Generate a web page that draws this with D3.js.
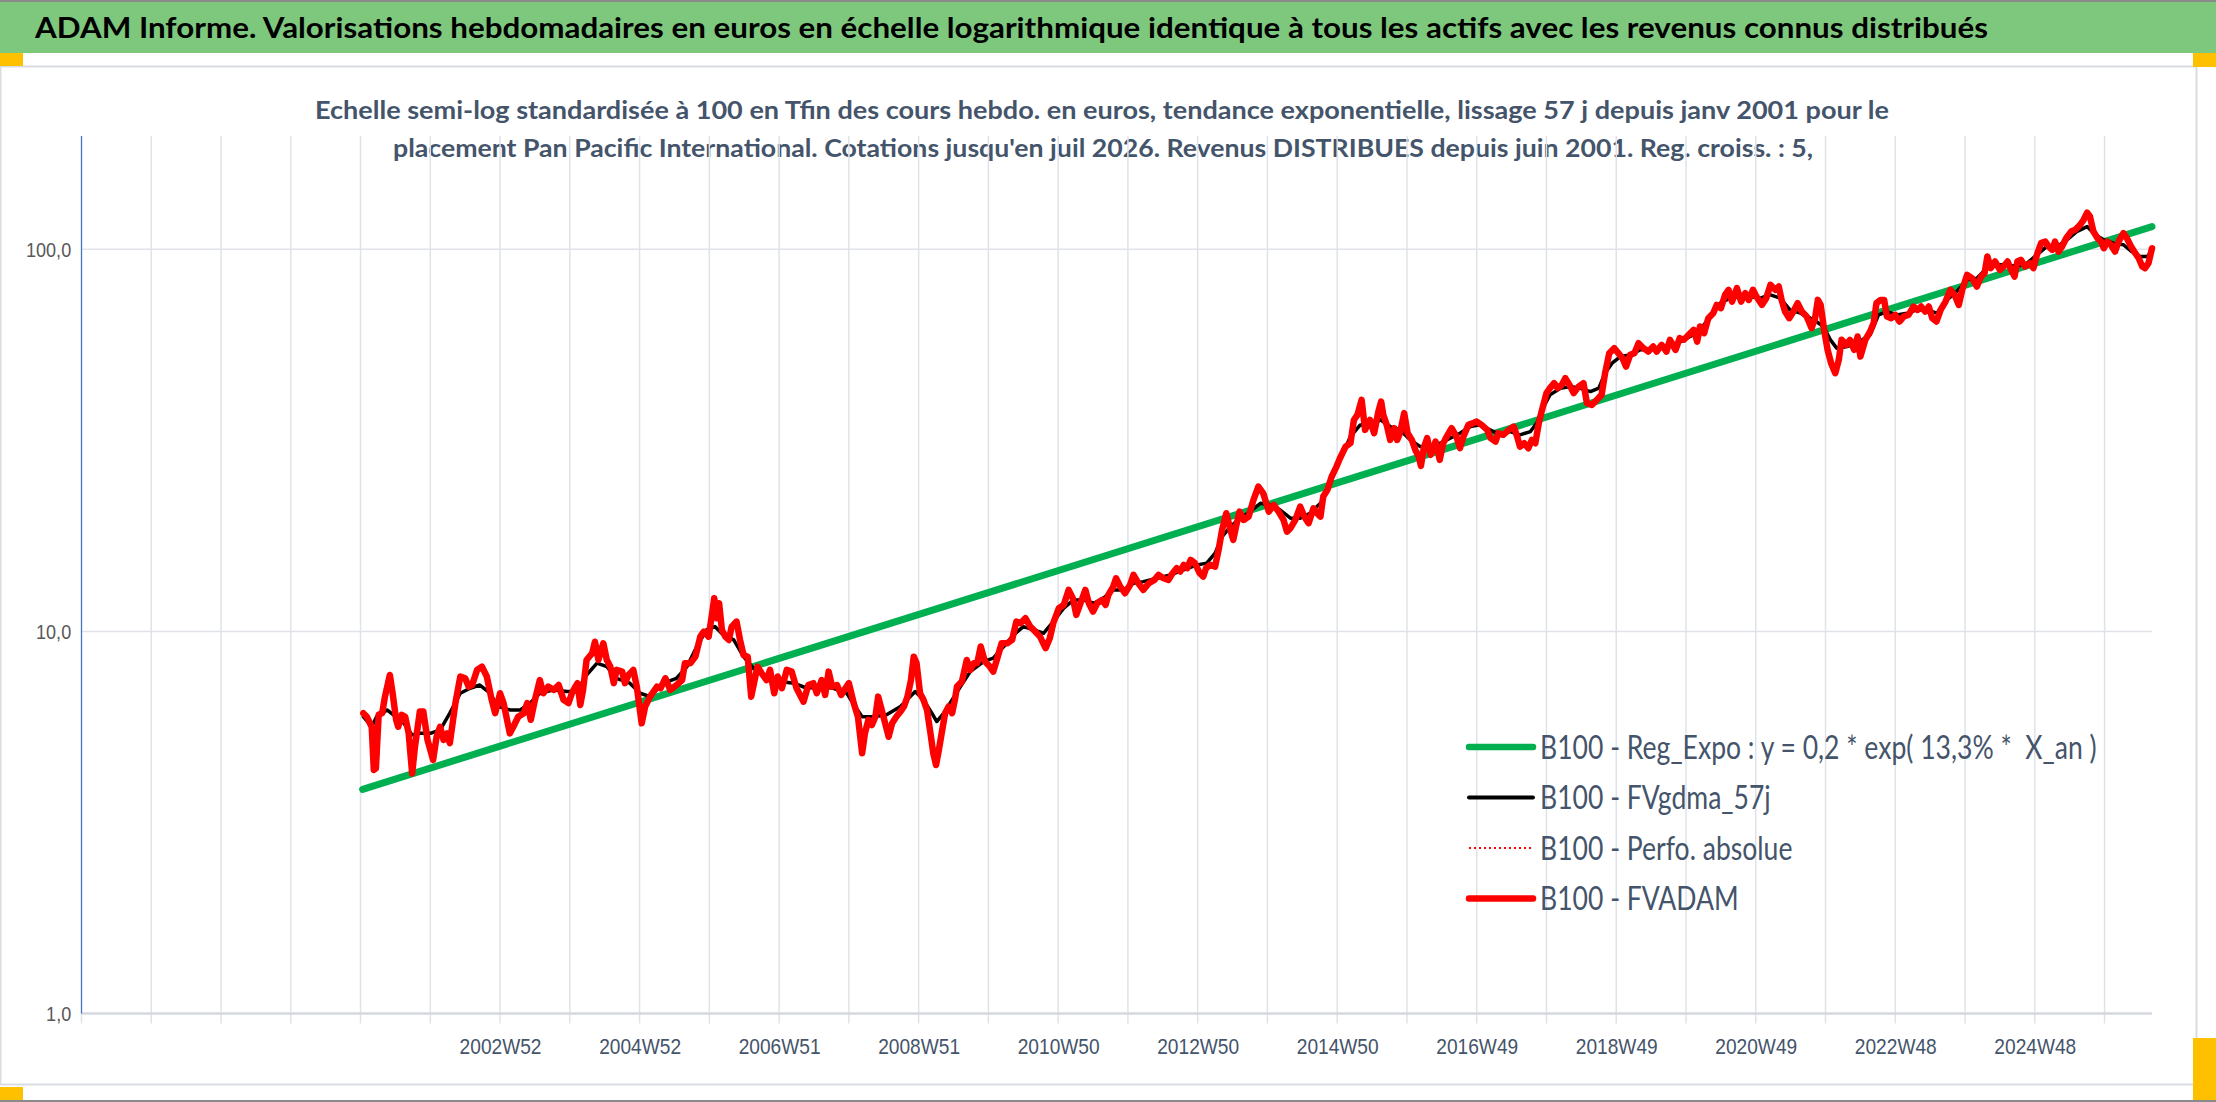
<!DOCTYPE html>
<html>
<head>
<meta charset="utf-8">
<script src="https://cdn.jsdelivr.net/npm/d3@7/dist/d3.min.js"></script>
<style>
  body { margin: 0; background: #fff; }
  svg { display: block; font-family: Lato, "Open Sans", sans-serif; }
</style>
</head>
<body>
<div id="chart"></div>
<script>
// ---- data (x = decimal year, y = base 100 value) ----
var mainTitle = "ADAM Informe. Valorisations hebdomadaires en euros en échelle logarithmique identique à tous les actifs avec les revenus connus distribués";
var subTitle = [
  "Echelle semi-log standardisée à 100 en Tfin des cours hebdo. en euros, tendance exponentielle, lissage 57 j depuis janv 2001 pour le",
  "placement Pan Pacific International. Cotations jusqu'en juil 2026. Revenus DISTRIBUES depuis juin 2001. Reg. croiss. : 5,"
];
var seriesNames = [
  "B100 - Reg_Expo : y = 0,2 * exp( 13,3% *  X_an )",
  "B100 - FVgdma_57j",
  "B100 - Perfo. absolue",
  "B100 - FVADAM"
];

var tickYears = [2003, 2005, 2007, 2009, 2011, 2013, 2015, 2017, 2019, 2021, 2023, 2025];
var tickLabels = ["2002W52", "2004W52", "2006W51", "2008W51", "2010W50", "2012W50",
                  "2014W50", "2016W49", "2018W49", "2020W49", "2022W48", "2024W48"];
var yTicks = [1, 10, 100];

// exponential regression (straight on the log axis)
var regExpo = [[2001.03, 3.86], [2026.68, 114.7]];

// FVADAM weekly valuation (red)
var fvadam = [
  [2001.04,6.11],[2001.09,5.98],[2001.16,5.63],[2001.19,4.34],[2001.22,4.38],[2001.26,6.05],[2001.31,6.11],[2001.35,6.75],
  [2001.42,7.69],[2001.46,6.89],[2001.51,5.87],[2001.54,5.63],[2001.59,6.05],[2001.64,5.98],[2001.69,5.41],[2001.74,4.25],
  [2001.78,4.99],[2001.85,6.17],[2001.90,6.17],[2001.96,5.20],[2002.04,4.61],[2002.09,5.30],[2002.14,5.63],[2002.19,5.20],
  [2002.24,5.41],[2002.28,5.10],[2002.36,6.49],[2002.43,7.62],[2002.50,7.54],[2002.55,7.17],[2002.60,7.24],[2002.67,7.93],
  [2002.74,8.09],[2002.81,7.62],[2002.88,6.62],[2002.93,6.11],[2003.00,6.89],[2003.05,6.49],[2003.10,5.87],[2003.14,5.41],
  [2003.19,5.63],[2003.26,5.98],[2003.34,6.11],[2003.39,6.49],[2003.44,5.87],[2003.50,6.62],[2003.57,7.46],[2003.62,6.89],
  [2003.69,7.17],[2003.77,7.03],[2003.84,7.24],[2003.91,6.62],[2003.98,6.49],[2004.03,6.89],[2004.08,7.17],[2004.11,7.32],
  [2004.15,6.42],[2004.19,7.03],[2004.24,8.42],[2004.32,8.77],[2004.36,9.40],[2004.41,8.42],[2004.48,9.31],[2004.53,8.42],
  [2004.58,8.09],[2004.63,7.32],[2004.67,7.93],[2004.75,7.85],[2004.79,7.32],[2004.84,7.69],[2004.91,7.93],[2004.96,7.17],
  [2005.03,5.75],[2005.08,6.36],[2005.15,6.75],[2005.20,6.96],[2005.25,7.17],[2005.30,7.10],[2005.37,7.54],[2005.44,7.03],
  [2005.53,7.24],[2005.61,7.46],[2005.65,8.26],[2005.73,8.26],[2005.80,8.59],[2005.87,9.69],[2005.92,9.99],[2005.99,9.69],
  [2006.04,11.16],[2006.07,12.22],[2006.11,10.83],[2006.14,11.85],[2006.18,10.09],[2006.23,9.69],[2006.28,9.50],[2006.32,10.29],
  [2006.39,10.61],[2006.44,9.50],[2006.49,8.68],[2006.55,8.59],[2006.60,6.75],[2006.64,7.32],[2006.69,8.09],[2006.75,7.77],
  [2006.82,7.46],[2006.87,7.93],[2006.93,6.89],[2006.98,7.62],[2007.04,7.10],[2007.11,7.93],[2007.18,7.85],[2007.25,7.10],
  [2007.35,6.55],[2007.42,7.24],[2007.49,7.32],[2007.54,6.89],[2007.61,7.46],[2007.66,6.82],[2007.71,7.85],[2007.76,7.17],
  [2007.83,7.24],[2007.89,6.82],[2007.95,7.10],[2008.00,7.32],[2008.07,6.49],[2008.13,5.98],[2008.19,4.80],[2008.23,5.41],
  [2008.28,5.87],[2008.33,5.69],[2008.38,5.98],[2008.42,6.75],[2008.47,6.23],[2008.52,5.75],[2008.57,5.30],[2008.62,5.75],
  [2008.68,5.98],[2008.74,6.17],[2008.79,6.36],[2008.84,6.75],[2008.89,7.46],[2008.93,8.59],[2008.97,8.26],[2009.02,6.89],
  [2009.07,6.62],[2009.12,6.23],[2009.17,5.41],[2009.21,4.80],[2009.25,4.47],[2009.29,4.90],[2009.33,5.41],[2009.38,6.11],
  [2009.43,6.36],[2009.48,6.11],[2009.52,6.62],[2009.55,7.17],[2009.62,7.39],[2009.69,8.42],[2009.74,7.93],[2009.79,8.26],
  [2009.84,8.26],[2009.89,9.13],[2009.95,8.34],[2010.02,8.09],[2010.07,7.85],[2010.12,8.42],[2010.19,9.31],[2010.27,9.31],
  [2010.34,9.50],[2010.40,10.61],[2010.46,10.51],[2010.53,10.83],[2010.60,10.29],[2010.67,10.00],[2010.74,9.69],[2010.82,9.04],
  [2010.88,9.60],[2010.93,10.51],[2011.01,11.50],[2011.08,11.73],[2011.15,12.84],[2011.21,12.22],[2011.26,11.05],[2011.32,11.85],
  [2011.39,12.84],[2011.44,11.85],[2011.50,11.27],[2011.56,11.85],[2011.63,12.09],[2011.68,11.73],[2011.72,12.46],[2011.79,13.10],
  [2011.83,13.78],[2011.89,13.10],[2011.96,12.59],[2012.03,13.23],[2012.08,14.06],[2012.15,13.37],[2012.22,12.84],[2012.30,13.37],
  [2012.38,13.64],[2012.44,14.06],[2012.51,13.78],[2012.58,13.64],[2012.64,14.20],[2012.70,14.64],[2012.75,14.35],[2012.80,14.93],
  [2012.85,14.64],[2012.90,15.39],[2012.96,15.09],[2013.03,14.20],[2013.08,13.92],[2013.12,14.64],[2013.18,14.93],[2013.25,14.78],
  [2013.30,16.34],[2013.35,18.44],[2013.41,20.39],[2013.47,18.44],[2013.51,17.36],[2013.55,18.81],[2013.60,20.58],[2013.66,19.58],
  [2013.73,19.97],[2013.80,22.09],[2013.87,23.94],[2013.94,22.99],[2014.02,20.58],[2014.09,21.43],[2014.16,20.58],[2014.23,19.58],
  [2014.28,18.25],[2014.33,18.63],[2014.40,19.58],[2014.47,21.21],[2014.53,19.97],[2014.59,19.20],[2014.66,21.01],[2014.71,20.39],
  [2014.76,19.97],[2014.80,22.54],[2014.86,23.47],[2014.92,25.42],[2014.99,27.00],[2015.04,28.40],[2015.12,30.46],[2015.19,31.09],
  [2015.24,35.79],[2015.29,36.89],[2015.35,40.36],[2015.40,33.69],[2015.47,35.79],[2015.53,33.02],[2015.59,37.62],[2015.63,39.96],
  [2015.66,36.89],[2015.71,34.72],[2015.76,31.71],[2015.82,34.03],[2015.86,31.71],[2015.90,33.02],[2015.96,37.26],[2016.01,33.02],
  [2016.07,31.71],[2016.12,29.86],[2016.17,28.68],[2016.20,27.12],[2016.24,30.17],[2016.29,32.05],[2016.34,28.97],[2016.41,31.40],
  [2016.47,28.12],[2016.52,31.09],[2016.57,32.36],[2016.64,34.03],[2016.71,32.36],[2016.76,30.17],[2016.81,32.36],[2016.88,34.72],
  [2016.95,35.08],[2017.00,35.42],[2017.07,34.72],[2017.15,33.69],[2017.20,32.05],[2017.27,31.40],[2017.31,33.02],[2017.38,32.70],
  [2017.46,33.69],[2017.53,34.37],[2017.58,32.36],[2017.62,30.46],[2017.68,31.09],[2017.74,30.17],[2017.79,31.71],[2017.84,31.09],
  [2017.89,35.08],[2017.93,37.62],[2018.00,42.04],[2018.05,43.32],[2018.11,44.64],[2018.16,43.32],[2018.22,44.19],[2018.27,46.01],
  [2018.33,44.19],[2018.39,42.04],[2018.46,43.73],[2018.53,44.64],[2018.58,39.58],[2018.65,39.17],[2018.72,40.36],[2018.79,41.60],
  [2018.84,47.42],[2018.90,53.49],[2018.97,55.13],[2019.03,53.49],[2019.09,51.90],[2019.14,49.34],[2019.20,52.95],[2019.26,53.49],
  [2019.32,56.81],[2019.39,55.13],[2019.46,54.02],[2019.53,55.66],[2019.58,54.02],[2019.65,56.23],[2019.72,54.02],[2019.77,57.97],
  [2019.85,54.57],[2019.91,58.56],[2019.97,57.97],[2020.04,59.74],[2020.11,61.57],[2020.16,57.35],[2020.20,62.80],[2020.26,60.35],
  [2020.32,66.05],[2020.39,68.08],[2020.44,71.55],[2020.50,70.15],[2020.56,76.01],[2020.61,78.34],[2020.66,73.00],[2020.73,79.14],
  [2020.79,73.00],[2020.85,76.79],[2020.90,73.74],[2020.96,78.34],[2021.01,75.21],[2021.09,71.55],[2021.15,74.50],[2021.21,80.74],
  [2021.28,78.34],[2021.33,79.91],[2021.37,73.74],[2021.42,68.73],[2021.48,66.05],[2021.54,68.73],[2021.60,72.30],[2021.66,68.73],
  [2021.73,66.70],[2021.80,62.19],[2021.85,66.05],[2021.89,73.74],[2021.93,71.55],[2021.98,61.57],[2022.03,54.57],[2022.08,50.37],
  [2022.14,47.42],[2022.19,51.37],[2022.23,57.97],[2022.30,56.23],[2022.35,57.97],[2022.41,54.57],[2022.46,59.14],[2022.50,52.42],
  [2022.57,57.97],[2022.64,60.95],[2022.69,64.11],[2022.73,72.30],[2022.79,73.74],[2022.84,73.74],[2022.88,66.70],[2022.94,66.05],
  [2023.00,67.38],[2023.06,64.71],[2023.12,66.70],[2023.19,67.38],[2023.26,70.84],[2023.32,69.43],[2023.37,70.84],[2023.43,68.73],
  [2023.48,70.84],[2023.53,66.05],[2023.59,64.71],[2023.65,69.43],[2023.72,73.00],[2023.79,78.34],[2023.85,76.01],[2023.91,71.55],
  [2023.96,78.34],[2024.03,85.76],[2024.10,84.07],[2024.17,79.91],[2024.23,84.90],[2024.28,86.65],[2024.32,95.76],[2024.37,89.30],
  [2024.43,92.93],[2024.50,88.39],[2024.55,90.16],[2024.61,92.93],[2024.66,88.39],[2024.71,84.90],[2024.75,92.93],[2024.80,93.87],
  [2024.86,90.16],[2024.94,92.03],[2024.98,89.30],[2025.03,96.74],[2025.09,103.8],[2025.15,104.8],[2025.20,101.7],[2025.25,99.7],
  [2025.29,104.8],[2025.34,98.67],[2025.39,101.7],[2025.45,106.9],[2025.52,111.3],[2025.58,112.5],[2025.65,115.9],[2025.70,119.5],
  [2025.75,124.8],[2025.79,121.9],[2025.84,111.3],[2025.90,106.9],[2025.95,104.8],[2025.99,100.7],[2026.04,104.8],[2026.09,102.8],
  [2026.15,98.67],[2026.20,104.8],[2026.27,110.3],[2026.32,106.9],[2026.38,101.7],[2026.44,97.72],[2026.49,94.82],[2026.54,90.16],
  [2026.58,89.30],[2026.63,92.03],[2026.68,100.7]
];

// FVgdma_57j smoothed line (black)
var fvgdma = [
  [2001.04,5.98],[2001.16,5.63],[2001.23,5.98],[2001.38,6.23],[2001.47,6.05],[2001.62,5.75],[2001.74,5.36],[2001.85,5.41],
  [2002.00,5.41],[2002.14,5.52],[2002.28,6.11],[2002.43,6.89],[2002.57,7.10],[2002.71,7.24],[2002.83,6.96],[2002.98,6.36],
  [2003.14,6.23],[2003.29,6.23],[2003.43,6.49],[2003.57,6.89],[2003.77,7.03],[2003.96,6.96],[2004.10,6.96],[2004.24,7.69],
  [2004.39,8.26],[2004.53,8.09],[2004.67,7.54],[2004.86,7.32],[2005.01,6.89],[2005.15,6.75],[2005.34,7.32],[2005.53,7.54],
  [2005.68,8.09],[2005.82,9.13],[2005.96,10.10],[2006.08,10.30],[2006.20,9.79],[2006.35,9.50],[2006.49,8.59],[2006.63,8.01],
  [2006.82,7.62],[2007.02,7.39],[2007.21,7.32],[2007.40,7.10],[2007.59,7.17],[2007.78,7.10],[2007.97,6.89],[2008.09,6.36],
  [2008.19,5.98],[2008.35,5.98],[2008.54,6.05],[2008.74,6.36],[2008.88,6.75],[2008.95,6.96],[2009.07,6.62],[2009.19,6.11],
  [2009.26,5.81],[2009.36,6.11],[2009.45,6.49],[2009.60,7.17],[2009.74,7.85],[2009.93,8.34],[2010.07,8.51],[2010.22,9.13],
  [2010.36,9.79],[2010.50,10.29],[2010.65,10.09],[2010.79,9.89],[2010.93,10.61],[2011.08,11.50],[2011.22,12.09],[2011.36,12.09],
  [2011.51,11.85],[2011.65,12.22],[2011.79,12.84],[2011.94,12.84],[2012.08,13.37],[2012.22,13.50],[2012.42,13.78],[2012.61,14.06],
  [2012.80,14.49],[2012.99,14.93],[2013.13,15.09],[2013.25,16.02],[2013.35,17.71],[2013.47,18.81],[2013.61,19.79],[2013.75,20.58],
  [2013.90,21.65],[2014.04,21.43],[2014.18,20.80],[2014.33,19.79],[2014.47,19.79],[2014.61,20.39],[2014.76,21.65],[2014.90,24.43],
  [2015.04,28.12],[2015.19,32.36],[2015.33,34.72],[2015.47,34.72],[2015.62,35.79],[2015.76,34.37],[2015.90,33.69],[2016.05,31.71],
  [2016.19,30.46],[2016.33,30.46],[2016.48,31.09],[2016.62,32.05],[2016.76,33.02],[2016.91,34.37],[2017.05,34.72],[2017.19,33.69],
  [2017.34,32.70],[2017.48,33.35],[2017.62,32.70],[2017.77,33.35],[2017.86,35.08],[2017.96,38.77],[2018.05,41.60],[2018.20,43.32],
  [2018.34,43.73],[2018.48,43.32],[2018.63,42.44],[2018.75,43.32],[2018.84,47.42],[2018.94,50.37],[2019.06,52.42],[2019.20,52.95],
  [2019.34,54.57],[2019.49,54.57],[2019.63,55.66],[2019.77,56.23],[2019.92,57.35],[2020.06,59.14],[2020.20,61.57],[2020.35,66.70],
  [2020.49,72.30],[2020.63,74.50],[2020.78,75.21],[2020.92,75.21],[2021.06,74.50],[2021.21,76.01],[2021.35,74.50],[2021.49,69.43],
  [2021.64,68.08],[2021.83,65.40],[2021.97,62.80],[2022.07,57.97],[2022.16,55.13],[2022.31,55.66],[2022.45,56.81],[2022.64,59.74],
  [2022.76,67.38],[2022.88,68.73],[2023.02,67.38],[2023.17,68.08],[2023.31,69.43],[2023.45,69.43],[2023.60,68.08],[2023.74,73.74],
  [2023.88,77.53],[2024.03,83.22],[2024.17,84.07],[2024.31,89.30],[2024.46,91.09],[2024.60,91.09],[2024.74,90.16],[2024.89,92.03],
  [2025.03,96.74],[2025.17,101.7],[2025.32,101.7],[2025.46,105.9],[2025.60,111.3],[2025.75,114.7],[2025.87,109.1],[2025.99,105.9],
  [2026.13,103.8],[2026.27,102.8],[2026.39,98.67],[2026.51,95.76],[2026.61,95.76],[2026.68,98.67]
];

// ---- layout ----
var W = 2216, H = 1102;
var plot = {left: 81.5, right: 2152, top: 136, bottom: 1013.5};

var svg = d3.select("#chart")
  .append("svg")
  .attr("width", W)
  .attr("height", H);

svg.append("rect").attr("width", W).attr("height", H).attr("fill", "#fff");

// header band + frame
svg.append("rect").attr("x", 0).attr("y", 2).attr("width", W).attr("height", 51).attr("fill", "#7ec87e");
svg.append("line").attr("x1", 0).attr("x2", W).attr("y1", 1).attr("y2", 1).attr("stroke", "#8a8a8a").attr("stroke-width", 2);
svg.append("line").attr("x1", 0).attr("x2", W).attr("y1", 1101).attr("y2", 1101).attr("stroke", "#8a8a8a").attr("stroke-width", 2);

// chart area border
svg.append("path")
  .attr("d", "M0.5,66.5 H2196.5 V1084.5 H0.5 Z")
  .attr("fill", "none")
  .attr("stroke", "#d9dce1")
  .attr("stroke-width", 2);

// selection handles
var handles = [[0, 53, 23, 13], [2193, 53, 23, 14], [0, 1087, 23, 13], [2193, 1038, 23, 62]];
svg.selectAll("rect.handle").data(handles).join("rect")
  .attr("class", "handle")
  .attr("x", function(d){ return d[0]; })
  .attr("y", function(d){ return d[1]; })
  .attr("width", function(d){ return d[2]; })
  .attr("height", function(d){ return d[3]; })
  .attr("fill", "#ffc000");

// Title
svg.append("text")
  .attr("x", 35)
  .attr("y", 38)
  .attr("textLength", 1953)
  .attr("lengthAdjust", "spacingAndGlyphs")
  .style("font-size", "28px")
  .style("font-weight", "700")
  .attr("fill", "#000")
  .text(mainTitle);

// sub title (two lines)
var subSpec = [{cx: 1102, y: 119, w: 1574}, {cx: 1103, y: 157, w: 1420}];
svg.selectAll("text.subtitle").data(subTitle).join("text")
  .attr("class", "subtitle")
  .attr("x", function(d, i){ return subSpec[i].cx; })
  .attr("y", function(d, i){ return subSpec[i].y; })
  .attr("text-anchor", "middle")
  .attr("textLength", function(d, i){ return subSpec[i].w; })
  .attr("lengthAdjust", "spacingAndGlyphs")
  .style("font-size", "25px")
  .style("font-weight", "700")
  .attr("fill", "#44546a")
  .text(function(d){ return d; });

// scales
var x = d3.scaleLinear().domain([1997, 2026.68]).range([plot.left, plot.right]);
var y = d3.scaleLog().domain([1, 198]).range([plot.bottom, plot.top]);

var g = svg.append("g");

// vertical gridlines, one per year (52 weeks), with tick marks under the axis
var gridYears = d3.range(1997, 2027);
g.selectAll("line.vgrid").data(gridYears).join("line")
  .attr("class", "vgrid")
  .attr("x1", function(d){ return x(d); })
  .attr("x2", function(d){ return x(d); })
  .attr("y1", plot.top)
  .attr("y2", plot.bottom + 10)
  .attr("stroke", "#dfe3e9")
  .attr("stroke-width", 1.5);

// horizontal gridlines
g.selectAll("line.hgrid").data(yTicks.slice(1)).join("line")
  .attr("class", "hgrid")
  .attr("x1", plot.left)
  .attr("x2", plot.right)
  .attr("y1", function(d){ return y(d); })
  .attr("y2", function(d){ return y(d); })
  .attr("stroke", "#dfe3e9")
  .attr("stroke-width", 1.5);

// X axis
var xAxisCall = d3.axisBottom(x)
  .tickValues(tickYears)
  .tickFormat(function(d, i){ return tickLabels[i]; })
  .tickSize(0);
var xAxis = g.append("g")
  .attr("class", "x axis")
  .attr("transform", "translate(0," + plot.bottom + ")")
  .call(xAxisCall);
xAxis.select(".domain").remove();
xAxis.selectAll("text")
  .attr("y", 33)
  .attr("dy", "0.35em")
  .attr("fill", "#44546a")
  .style("font-size", "22px")
  .attr("transform", "scale(0.87,1)");

g.append("line")
  .attr("x1", plot.left).attr("x2", plot.right)
  .attr("y1", plot.bottom).attr("y2", plot.bottom)
  .attr("stroke", "#d4d8de")
  .attr("stroke-width", 2.5);

// Y axis
var frLocale = d3.formatLocale({decimal: ",", thousands: " ", grouping: [3], currency: ["", " €"]});
var yAxisCall = d3.axisLeft(y)
  .tickValues(yTicks)
  .tickFormat(frLocale.format(".1f"))
  .tickSize(0)
  .tickPadding(12);
var yAxis = g.append("g")
  .attr("class", "y axis")
  .attr("transform", "translate(" + plot.left + ",0)")
  .call(yAxisCall);
yAxis.select(".domain").remove();
yAxis.selectAll("text")
  .attr("fill", "#595959")
  .style("font-size", "21px")
  .attr("transform", "scale(0.86,1)");

g.append("line")
  .attr("x1", plot.left).attr("x2", plot.left)
  .attr("y1", plot.top).attr("y2", plot.bottom)
  .attr("stroke", "#4472c4")
  .attr("stroke-width", 1.2);

// series
var line = d3.line()
  .x(function(d){ return x(d[0]); })
  .y(function(d){ return y(d[1]); });

var seriesStyle = [
  {data: regExpo, color: "#00b050", width: 7, dash: null},
  {data: fvgdma, color: "#000000", width: 3.5, dash: null},
  {data: fvadam, color: "#ff0000", width: 2, dash: "2,3"},
  {data: fvadam, color: "#ff0000", width: 6.5, dash: null}
];

g.selectAll("path.series").data(seriesStyle).join("path")
  .attr("class", "series")
  .attr("d", function(d){ return line(d.data); })
  .attr("fill", "none")
  .attr("stroke", function(d){ return d.color; })
  .attr("stroke-width", function(d){ return d.width; })
  .attr("stroke-dasharray", function(d){ return d.dash; })
  .attr("stroke-linejoin", "round")
  .attr("stroke-linecap", "round");

// Legend
var legend = svg.append("g")
  .attr("transform", "translate(1469,747)");

seriesStyle.forEach(function(d, i){
  var legendRow = legend.append("g")
    .attr("transform", "translate(0," + (i * 50.5) + ")");

  legendRow.append("line")
    .attr("x1", 0).attr("x2", 64)
    .attr("y1", 0).attr("y2", 0)
    .attr("stroke", d.color)
    .attr("stroke-width", d.dash ? 2 : (i === 1 ? 4 : 6.5))
    .attr("stroke-dasharray", d.dash)
    .attr("stroke-linecap", d.dash ? "butt" : "round");

  legendRow.append("text")
    .attr("transform", "translate(71,0) scale(0.805,1)")
    .attr("dy", "0.36em")
    .attr("fill", "#44546a")
    .style("font-size", "33px")
    .style("white-space", "pre")
    .text(seriesNames[i]);
});
</script>
</body>
</html>
